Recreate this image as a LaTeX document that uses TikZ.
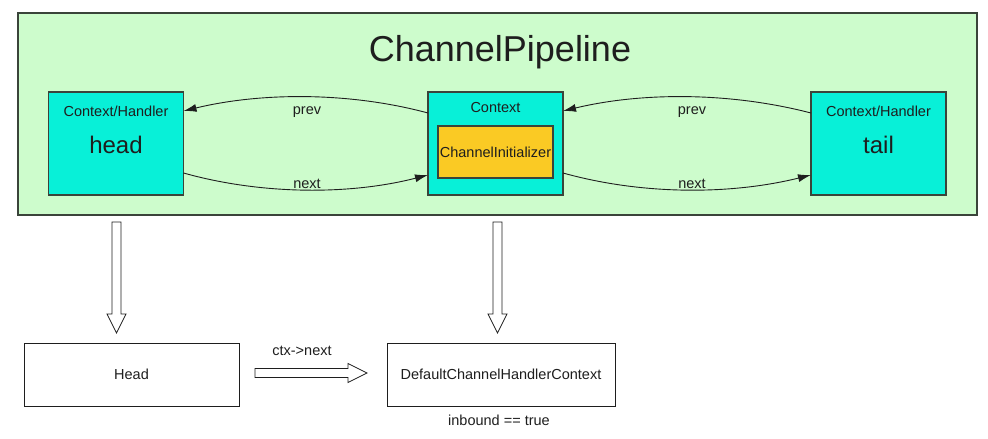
\documentclass[tikz,border=0pt]{standalone}
\usepackage{fontspec}
\setmainfont{Liberation Sans}
\usetikzlibrary{arrows.meta,calc}

\definecolor{pipegreen}{RGB}{205,252,204}
\definecolor{ctxcyan}{RGB}{8,240,216}
\definecolor{initorange}{RGB}{250,202,36}
\definecolor{framegray}{RGB}{58,68,58}
\definecolor{inkgray}{RGB}{30,30,30}

\tikzset{
  every node/.style={inner sep=0pt, outer sep=0pt, text=inkgray},
  pipebox/.style={draw=framegray, line width=1.4pt, fill=pipegreen,
    minimum width=959pt, minimum height=202pt},
  ctxbox/.style={draw=framegray, line width=1.1pt, fill=ctxcyan,
    minimum width=135pt, minimum height=103pt},
  initbox/.style={draw=framegray, line width=1.1pt, fill=initorange,
    minimum width=115pt, minimum height=52pt},
  plainbox/.style={draw=inkgray, line width=0.9pt, fill=white,
    minimum height=63pt},
  link/.style={draw=inkgray, line width=0.9pt, -{Latex[length=13pt,width=8pt]}},
  fatline/.style={draw=inkgray, line width=0.8pt, fill=white, line join=miter},
  titlefont/.style={font=\fontsize{36}{40}\selectfont},
  bigfont/.style={font=\fontsize{24}{28}\selectfont},
  smallfont/.style={font=\fontsize{14.5}{17}\selectfont},
}

% hollow block arrow from #1 to #2
\newcommand\hollowarrow[2]{%
  \path (#1) coordinate (ha-s) (#2) coordinate (ha-t)
        ($(ha-t)!19pt!(ha-s)$) coordinate (ha-h);
  \draw[fatline]
    ($(ha-s)!4.5pt!90:(ha-t)$) -- ($(ha-h)!4.5pt!-90:(ha-s)$)
    -- ($(ha-h)!9.5pt!-90:(ha-s)$) -- (ha-t)
    -- ($(ha-h)!9.5pt!90:(ha-s)$) -- ($(ha-h)!4.5pt!90:(ha-s)$)
    -- ($(ha-s)!4.5pt!-90:(ha-t)$) -- cycle;
}

\begin{document}
\begin{tikzpicture}[x=1pt, y=-1pt]
  \useasboundingbox (0,0) rectangle (988,439);

  % pipeline frame and title
  \node[pipebox] (pipe) at (497.5,114) {};
  \node[titlefont] (title) at (500,52) {ChannelPipeline};

  % head context
  \node[ctxbox] (head) at (116,143.5) {};
  \node[bigfont] (headname) at (116,145) {head};
  \node[smallfont] (headlbl) at (116,111) {Context/Handler};

  % middle context holding the initializer
  \node[ctxbox] (ctx) at (495.5,143.5) {};
  \node[smallfont] (ctxlbl) at (495.5,107.5) {Context};
  \node[initbox, smallfont] (init) at (495.5,152) {ChannelInitializer};

  % tail context
  \node[ctxbox] (tail) at (878.5,143.5) {};
  \node[bigfont] (tailname) at (878.5,145) {tail};
  \node[smallfont] (taillbl) at (878.5,111) {Context/Handler};

  % prev / next links
  \draw[link] ([yshift=30.5pt]ctx.west) .. controls (350,92) and (262,92) .. ([yshift=32.5pt]head.east);
  \draw[link] ([yshift=-29.5pt]head.east) .. controls (262,195) and (350,195) .. ([yshift=-31.5pt]ctx.west);
  \draw[link] ([yshift=30.5pt]tail.west) .. controls (730,92) and (642,92) .. ([yshift=32.5pt]ctx.east);
  \draw[link] ([yshift=-29.5pt]ctx.east) .. controls (642,195) and (730,195) .. ([yshift=-31.5pt]tail.west);

  \node[smallfont] (prevl) at (307,112.5) {prev};
  \node[smallfont] (nextl) at (307,183.5) {next};
  \node[smallfont] (prevr) at (692,112.5) {prev};
  \node[smallfont] (nextr) at (692,183.5) {next};

  % lower row
  \node[plainbox, minimum width=215pt, smallfont] (hbox) at (131.5,374.5) {Head};
  \node[plainbox, minimum width=228pt, smallfont] (dbox) at (501,374.5) {DefaultChannelHandlerContext};
  \node[smallfont] (ctxnext) at (302,351) {ctx->next};
  \node[smallfont] (inb) at (499,420.5) {inbound == true};

  % hollow arrows
  \coordinate (a1s) at ($(pipe.south -| head.south)+(0.5,7)$);
  \coordinate (a1t) at ($(hbox.north -| head.south)+(0.5,-10)$);
  \hollowarrow{a1s}{a1t}
  \coordinate (a2s) at ($(pipe.south -| ctx.south)+(2,7)$);
  \coordinate (a2t) at ($(dbox.north -| ctx.south)+(2,-10)$);
  \hollowarrow{a2s}{a2t}
  \coordinate (a3s) at ($(hbox.east)+(16,-1.5)$);
  \coordinate (a3t) at ($(dbox.west)+(-20,-1.5)$);
  \hollowarrow{a3s}{a3t}
\end{tikzpicture}
\end{document}
